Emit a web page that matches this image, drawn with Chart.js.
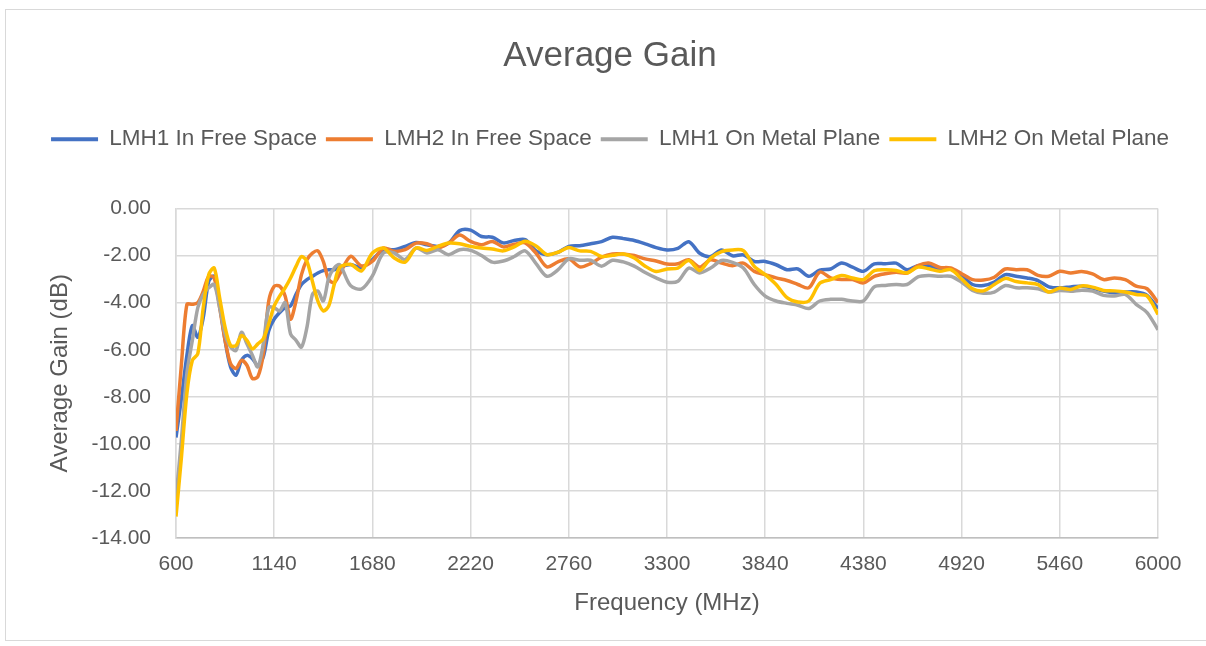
<!DOCTYPE html>
<html>
<head>
<meta charset="utf-8">
<script src="https://cdn.jsdelivr.net/npm/chart.js@4.4.1/dist/chart.umd.min.js"></script>
<style>
html, body { margin: 0; padding: 0; background: #ffffff; }
#frame { position: absolute; left: 5px; top: 9px; width: 1210px; height: 632px; border: 1px solid #d9d9d9; box-sizing: border-box; }
#wrap { position: absolute; left: 0; top: 0; width: 1206px; height: 646px; }
</style>
</head>
<body>
<div id="frame"></div>
<div id="wrap"><canvas id="chart"></canvas></div>
<script>
// frequency points (MHz), finer steps at the low end where the curves wobble
const freqs = [600, 630, 660, 690, 720, 750, 780, 810, 840, 870, 900, 930, 960, 990, 1020, 1050, 1080, 1110, 1140, 1170,
    1200, 1230, 1260, 1290, 1320, 1350, 1380, 1410, 1440, 1470, 1500,
    1560, 1620, 1680, 1740, 1800, 1860, 1920, 1980, 2040, 2100, 2160, 2220, 2280, 2340, 2400, 2460, 2520, 2580, 2640, 2700,
    2760, 2820, 2880, 2940, 3000, 3060, 3120, 3180, 3240, 3300, 3360, 3420, 3480, 3540, 3600, 3660, 3720, 3780, 3840, 3900,
    3960, 4020, 4080, 4140, 4200, 4260, 4320, 4380, 4440, 4500, 4560, 4620, 4680, 4740, 4800, 4860, 4920, 4980, 5040, 5100,
    5160, 5220, 5280, 5340, 5400, 5460, 5520, 5580, 5640, 5700, 5760, 5820, 5880, 5940, 6000];

const lmh1Free = [-9.73, -8.06, -6.24, -4.98, -5.47, -4.63, -3.09, -2.88, -4.07, -5.61, -6.73, -7.08, -6.45, -6.24, -6.38, -6.66, -6.31, -5.19, -4.7, -4.42,
    -4.21, -4.14, -3.65, -3.23, -3.02, -2.88, -2.74, -2.64, -2.6, -2.6, -2.5,
    -2.38, -2.51, -2.17, -1.75, -1.75, -1.61, -1.44, -1.54, -1.61, -1.47, -0.94, -0.92, -1.19, -1.22, -1.46, -1.36, -1.32, -1.8, -1.96, -1.86,
    -1.61, -1.58, -1.5, -1.41, -1.22, -1.28, -1.36, -1.5, -1.66, -1.76, -1.69, -1.41, -1.9, -2.04, -1.76, -2.01, -1.97, -2.25, -2.25, -2.39,
    -2.6, -2.57, -2.88, -2.62, -2.57, -2.32, -2.49, -2.67, -2.35, -2.35, -2.32, -2.6, -2.43, -2.43, -2.56, -2.57, -2.85, -3.23, -3.27, -3.13,
    -2.81, -2.88, -2.95, -3.06, -3.33, -3.37, -3.33, -3.3, -3.38, -3.51, -3.58, -3.55, -3.55, -3.69, -4.25];

const lmh2Free = [-9.45, -6.6, -4.07, -4.07, -4.0, -3.51, -2.88, -2.95, -4.21, -5.6, -6.59, -6.8, -6.45, -6.66, -7.22, -7.15, -6.17, -3.93, -3.3, -3.3,
    -3.72, -4.7, -3.93, -2.81, -2.18, -1.9, -1.8, -2.25, -3.02, -3.15, -2.79,
    -2.03, -2.44, -2.24, -1.68, -1.82, -1.75, -1.47, -1.5, -1.68, -1.47, -1.13, -1.4, -1.54, -1.4, -1.63, -1.52, -1.46, -1.9, -2.48, -2.27,
    -2.14, -2.48, -2.34, -2.07, -1.93, -1.93, -2.0, -2.14, -2.23, -2.36, -2.35, -2.18, -2.49, -2.18, -2.32, -2.43, -2.32, -2.67, -2.81, -2.95,
    -3.06, -3.23, -3.37, -2.7, -2.95, -3.02, -3.02, -3.16, -2.88, -2.77, -2.71, -2.74, -2.43, -2.32, -2.5, -2.53, -2.77, -3.02, -3.04, -2.92,
    -2.57, -2.6, -2.6, -2.84, -2.88, -2.67, -2.74, -2.68, -2.78, -3.02, -2.95, -3.02, -3.3, -3.41, -4.0];

const lmh1Metal = [-12.3, -9.8, -7.0, -5.6, -4.21, -3.65, -3.37, -3.23, -4.21, -5.33, -5.89, -6.03, -5.26, -5.75, -6.24, -6.73, -5.75, -4.21, -4.21, -4.35,
    -4.0, -5.33, -5.6, -5.89, -5.05, -3.65, -3.51, -3.93, -2.95, -2.53, -2.39,
    -3.28, -3.42, -2.86, -1.89, -1.89, -2.17, -1.68, -1.89, -1.75, -1.96, -1.75, -1.78, -2.0, -2.28, -2.23, -2.04, -1.8, -2.34, -2.88, -2.61,
    -2.14, -2.2, -2.2, -2.45, -2.2, -2.27, -2.45, -2.72, -2.95, -3.13, -3.09, -2.53, -2.74, -2.53, -2.21, -2.29, -2.53, -3.23, -3.72, -3.93,
    -4.03, -4.11, -4.25, -3.93, -3.86, -3.86, -3.93, -3.93, -3.33, -3.27, -3.23, -3.23, -2.91, -2.85, -2.88, -2.88, -3.13, -3.48, -3.6, -3.55,
    -3.27, -3.37, -3.37, -3.41, -3.55, -3.48, -3.52, -3.47, -3.51, -3.69, -3.72, -3.65, -4.07, -4.42, -5.15];

const lmh2Metal = [-13.09, -10.56, -7.85, -6.45, -6.17, -4.21, -2.81, -2.53, -3.79, -5.05, -5.82, -5.82, -5.4, -5.6, -5.96, -5.75, -5.54, -4.91, -4.14, -3.72,
    -3.37, -2.95, -2.46, -2.04, -2.25, -3.09, -3.93, -4.35, -4.14, -3.23, -2.5,
    -2.38, -2.65, -1.89, -1.68, -2.1, -2.28, -1.68, -1.78, -1.61, -1.47, -1.5, -1.61, -1.68, -1.72, -1.8, -1.63, -1.39, -1.59, -1.96, -1.86,
    -1.66, -1.8, -1.82, -2.04, -1.99, -1.93, -2.1, -2.45, -2.68, -2.57, -2.53, -2.21, -2.63, -2.11, -1.83, -1.76, -1.79, -2.46, -2.81, -3.23,
    -3.79, -3.97, -3.93, -3.18, -3.02, -2.85, -2.95, -3.02, -2.64, -2.6, -2.63, -2.74, -2.49, -2.56, -2.67, -2.6, -2.99, -3.41, -3.5, -3.23,
    -2.97, -3.1, -3.16, -3.23, -3.55, -3.38, -3.44, -3.29, -3.34, -3.48, -3.5, -3.55, -3.65, -3.72, -4.5];

const seriesNames = ["LMH1 In Free Space", "LMH2 In Free Space", "LMH1 On Metal Plane", "LMH2 On Metal Plane"];
const seriesColors = ["#4472C4", "#ED7D31", "#A5A5A5", "#FFC000"];
const seriesValues = [lmh1Free, lmh2Free, lmh1Metal, lmh2Metal];

const fontFamily = "'Liberation Sans', Arial, sans-serif";
const textColor = "#595959";

function makeDataset(i) {
    return {
        label: seriesNames[i],
        data: freqs.map((f, k) => ({ x: f, y: seriesValues[i][k] })),
        borderColor: seriesColors[i],
        backgroundColor: seriesColors[i],
        borderWidth: 3.5,
        pointRadius: 0,
        tension: 0.3,
        // later series sit on top, like the original
        order: seriesNames.length - i
    };
}

// push the plot down: leave empty room under the legend row
const legendGap = {
    id: 'legendGap',
    beforeInit(chart) {
        const fit = chart.legend.fit;
        chart.legend.fit = function () {
            fit.call(this);
            this.height += 48;
        };
    }
};

const config = {
    type: 'line',
    data: {
        datasets: seriesNames.map((n, i) => makeDataset(i))
    },
    options: {
        responsive: true,
        maintainAspectRatio: false,
        animation: false,
        layout: {
            padding: { left: 40, right: 26, top: 8, bottom: 10 }
        },
        plugins: {
            title: {
                display: true,
                text: 'Average Gain',
                color: textColor,
                font: { family: fontFamily, size: 35, weight: 'normal' },
                padding: { top: 27, bottom: 42 }
            },
            legend: {
                position: 'top',
                labels: {
                    color: textColor,
                    font: { family: fontFamily, size: 22.5 },
                    boxWidth: 47,
                    boxHeight: 4,
                    padding: 9,
                    sort: (a, b) => a.datasetIndex - b.datasetIndex,
                    generateLabels: chart => Chart.defaults.plugins.legend.labels.generateLabels(chart)
                        .map(l => ({ ...l, lineWidth: 0 }))
                }
            },
            tooltip: { enabled: false }
        },
        scales: {
            x: {
                type: 'linear',
                min: 600,
                max: 6000,
                afterFit: scale => { scale.height = 98; },
                ticks: {
                    stepSize: 540,
                    color: textColor,
                    font: { family: fontFamily, size: 21 },
                    padding: 14,
                    callback: value => String(value)
                },
                grid: { color: '#d9d9d9', lineWidth: 1.5, drawTicks: false },
                border: { color: '#bfbfbf', width: 1.5 },
                title: {
                    display: true,
                    text: 'Frequency (MHz)',
                    color: textColor,
                    font: { family: fontFamily, size: 24 },
                    padding: { top: 0, bottom: 18 }
                }
            },
            y: {
                min: -14,
                max: 0,
                afterFit: scale => { scale.width = 136; },
                ticks: {
                    stepSize: 2,
                    color: textColor,
                    font: { family: fontFamily, size: 21 },
                    padding: 25,
                    callback: value => value.toFixed(2)
                },
                grid: { color: '#d9d9d9', lineWidth: 1.5, drawTicks: false },
                border: { color: '#d9d9d9', width: 1.5 },
                title: {
                    display: true,
                    text: 'Average Gain (dB)',
                    color: textColor,
                    font: { family: fontFamily, size: 24 },
                    padding: { top: 6, bottom: 0 }
                }
            },
            // empty strip on the right so the plot ends where the original does
            yRight: {
                position: 'right',
                min: -14,
                max: 0,
                afterFit: scale => { scale.width = 22; },
                ticks: { display: false },
                grid: { display: false },
                border: { display: false }
            }
        }
    },
    plugins: [legendGap]
};

new Chart(document.getElementById('chart'), config);
</script>
</body>
</html>
